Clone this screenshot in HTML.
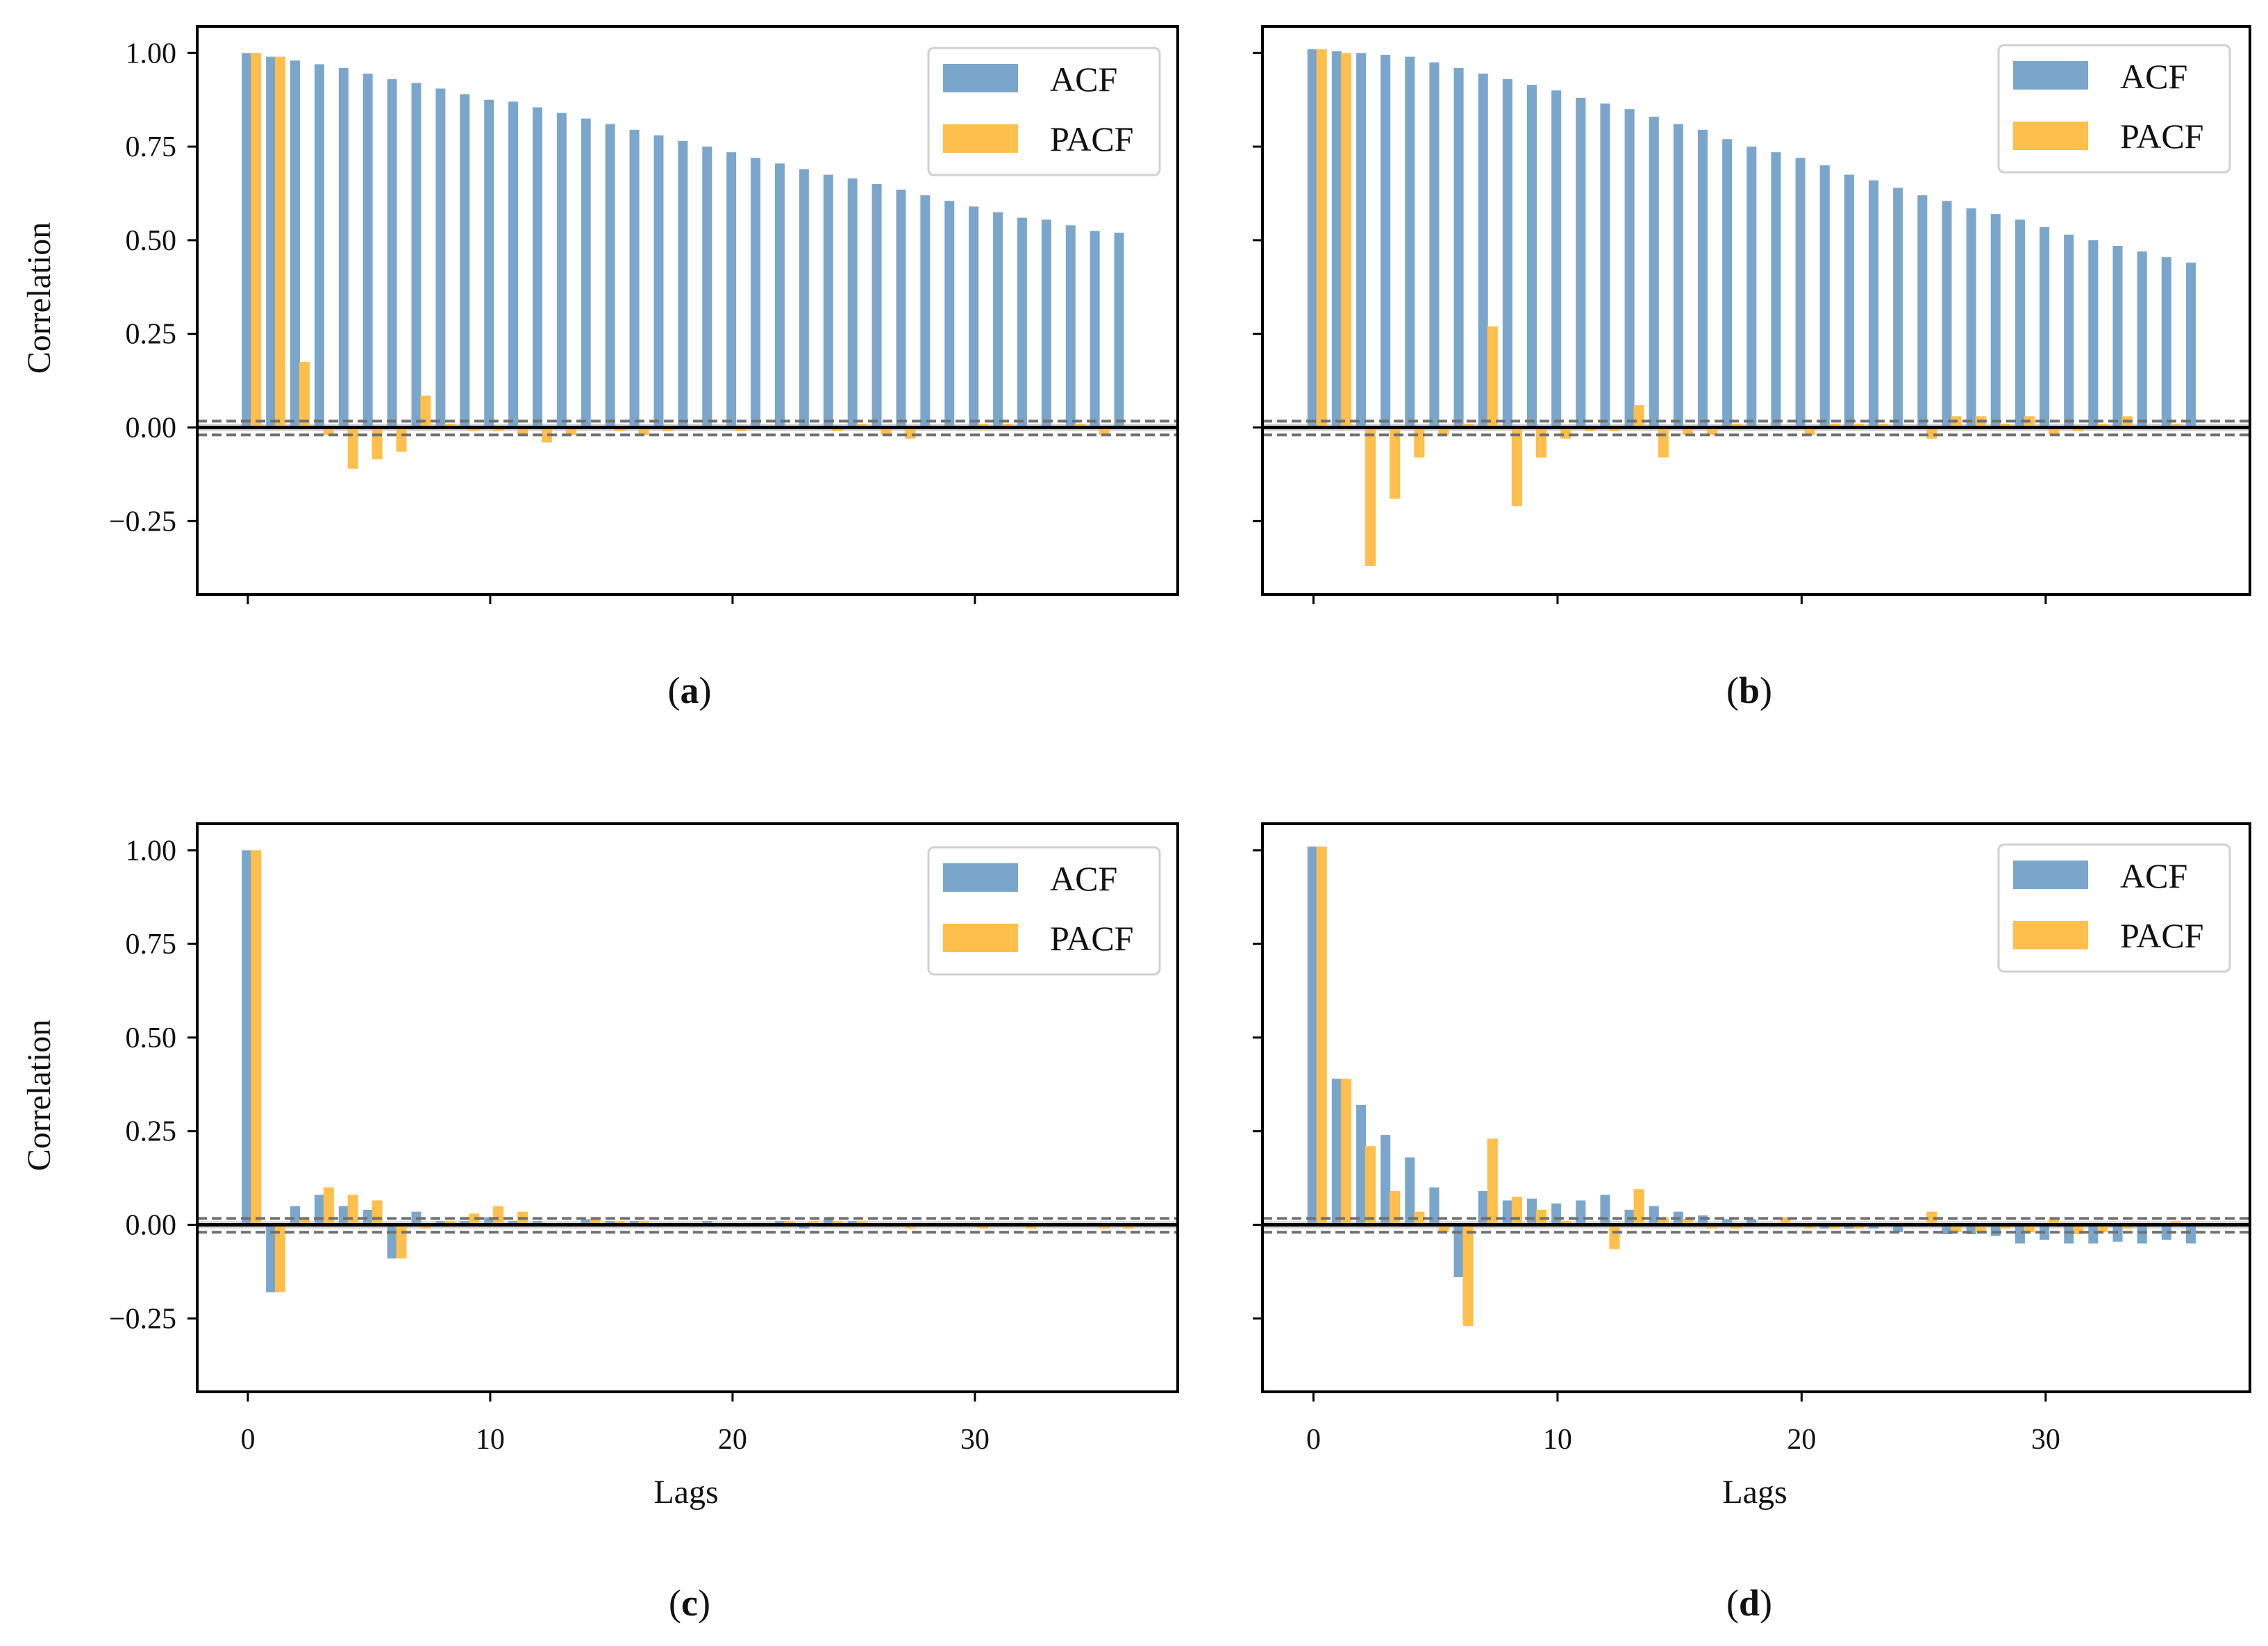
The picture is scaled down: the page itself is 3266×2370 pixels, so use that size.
<!DOCTYPE html>
<html><head><meta charset="utf-8"><style>
html,body{margin:0;padding:0;background:#fff;}
svg{display:block;}
text{font-family:"Liberation Serif",serif;fill:#111;}
</style></head><body>
<svg id="fig" width="3266" height="2370" viewBox="0 0 3266 2370" xmlns="http://www.w3.org/2000/svg"></svg>
<script>
const lags = Array.from({length:37},(_, i)=>i);
const xTicks = [0,10,20,30];
const yTicks = [1.0,0.75,0.5,0.25,0.0,-0.25];
const yTickLabels = ["1.00","0.75","0.50","0.25","0.00","\u22120.25"];
const confUpper = 0.017;
const confLower = -0.02;

const acfA = [1.00,.99,.98,.97,.96,.945,.93,.92,.905,.89,.875,.87,.855,.84,.825,.81,.795,.78,.765,.75,.735,.72,.705,.69,.675,.665,.65,.635,.62,.605,.59,.575,.56,.555,.54,.525,.52];
const pacfA = [1.00,.99,.175,-.02,-.11,-.085,-.065,.085,.01,-.01,-.01,-.02,-.04,-.02,0,-.01,-.02,-.01,0,0,-.01,0,0,0,-.01,.01,-.02,-.03,0,0,.01,.01,0,0,.01,-.02,0];
const acfB = [1.01,1.005,1.0,.995,.99,.975,.96,.945,.93,.915,.90,.88,.865,.85,.83,.81,.795,.77,.75,.735,.72,.70,.675,.66,.64,.62,.605,.585,.57,.555,.535,.515,.50,.485,.47,.455,.44];
const pacfB = [1.01,1.0,-.37,-.19,-.08,-.02,.01,.27,-.21,-.08,-.03,-.01,-.01,.06,-.08,-.02,-.02,.01,0,0,-.02,.01,.01,.01,0,-.03,.03,.03,.01,.03,-.02,-.01,.01,.03,0,.01,0];
const acfC = [1.0,-.18,.05,.08,.05,.04,-.09,.035,.01,.01,.02,.01,.01,.005,.015,.01,.01,0,0,.01,0,0,.01,-.01,.015,.01,0,0,0,0,0,0,0,0,0,0,0];
const pacfC = [1.0,-.18,.02,.10,.08,.065,-.09,-.01,.01,.03,.05,.035,0,0,.02,.01,.01,0,0,0,0,0,.01,.01,.01,.01,0,-.01,0,0,-.01,0,-.01,0,0,-.01,-.01];
const acfD = [1.01,.39,.32,.24,.18,.10,-.14,.09,.065,.07,.057,.065,.08,.04,.05,.035,.025,.015,.015,0,0,-.01,-.01,-.01,-.02,0,-.025,-.025,-.03,-.05,-.04,-.05,-.05,-.045,-.05,-.04,-.05];
const pacfD = [1.01,.39,.21,.09,.035,-.02,-.27,.23,.075,.04,.01,0,-.065,.095,.02,.015,-.01,-.01,0,.02,-.01,-.01,-.01,0,0,.035,-.02,-.02,-.01,-.02,.02,-.025,-.02,-.01,0,.01,0];

const NS="http://www.w3.org/2000/svg";
const svg=document.getElementById('fig');
function mk(tag,attrs,parent){const e=document.createElementNS(NS,tag);for(const k in attrs)e.setAttribute(k,attrs[k]);(parent||svg).appendChild(e);return e;}

const panels=[
 {id:'a',acf:acfA,pacf:pacfA,x0:284,x1:1696,y0:38,y1:856,ylab:true,xlab:false,cap:[993,1012],leg:[1337,69]},
 {id:'b',acf:acfB,pacf:pacfB,x0:1818,x1:3240,y0:38,y1:856,ylab:false,xlab:false,cap:[2519,1012],leg:[2878,65]},
 {id:'c',acf:acfC,pacf:pacfC,x0:284,x1:1696,y0:1186,y1:2004,ylab:true,xlab:true,cap:[993,2326],leg:[1337,1220]},
 {id:'d',acf:acfD,pacf:pacfD,x0:1818,x1:3240,y0:1186,y1:2004,ylab:false,xlab:true,cap:[2519,2326],leg:[2878,1216]}
];
const xmin=-2.09,xmax=38.37,ymin=-0.446,ymax=1.071;

panels.forEach(p=>{
 const g=mk('g',{});
 
 
 const X=v=>p.x0+(v-xmin)/(xmax-xmin)*(p.x1-p.x0);
 const Y=v=>p.y1-(v-ymin)/(ymax-ymin)*(p.y1-p.y0);
 // band
 const band=mk('rect',{x:p.x0,y:Y(0.01),width:p.x1-p.x0,height:Y(-0.01)-Y(0.01),fill:'#d9d9d9'},g);
 
 
 // bars
 lags.forEach(k=>{
  const a=p.acf[k];
  const r=mk('rect',{x:X(k-0.25),y:Y(Math.max(a,0)),width:X(k+0.15)-X(k-0.25),height:Math.abs(Y(a)-Y(0)),fill:'#7ba6cb'},g);
  
  
 });
 lags.forEach(k=>{
  const a=p.pacf[k];
  const r=mk('rect',{x:X(k+0.12),y:Y(Math.max(a,0)),width:X(k+0.55)-X(k+0.12),height:Math.abs(Y(a)-Y(0)),fill:'#ffbf4d'},g);
  
  
 });
 [confUpper,confLower].forEach(c=>{
  const l=mk('line',{x1:p.x0,x2:p.x1,y1:Y(c),y2:Y(c),stroke:'#707070','stroke-width':4,'stroke-dasharray':'14,7'},g);
  
  
 });
 const z=mk('line',{x1:p.x0,x2:p.x1,y1:Y(0),y2:Y(0),stroke:'#000','stroke-width':5},g);
 
 
 const fr=mk('rect',{x:p.x0,y:p.y0,width:p.x1-p.x0,height:p.y1-p.y0,fill:'none',stroke:'#000','stroke-width':4},g);
 
 
 // y ticks
 yTicks.forEach((v,i)=>{
  mk('line',{x1:p.x0-14,x2:p.x0,y1:Y(v),y2:Y(v),stroke:'#000','stroke-width':3},g);
  if(p.ylab){
   const t=mk('text',{x:p.x0-30,y:Y(v)+14,'text-anchor':'end','font-size':42},g);
   t.textContent=yTickLabels[i];
   
   
  }
 });
 xTicks.forEach(v=>{
  mk('line',{x1:X(v),x2:X(v),y1:p.y1,y2:p.y1+14,stroke:'#000','stroke-width':3},g);
  if(p.xlab){
   const t=mk('text',{x:X(v),y:p.y1+82,'text-anchor':'middle','font-size':42},g);
   t.textContent=String(v);
   
   
  }
 });
 if(p.ylab){
  const cy=(p.y0+p.y1)/2-18;
  const t=mk('text',{x:72,y:cy,'text-anchor':'middle','font-size':48,transform:'rotate(-90 72 '+cy+')'},g);
  t.textContent='Correlation';
  
  
 }
 if(p.xlab){
  const t=mk('text',{x:(p.x0+p.x1)/2-2,y:p.y1+160,'text-anchor':'middle','font-size':48},g);
  t.textContent='Lags';
  
  
 }
 // legend
 const [lx,ly]=p.leg;
 const lg=mk('g',{},g);
 
 
 mk('rect',{x:lx,y:ly,width:333,height:183,rx:8,fill:'#fff','fill-opacity':0.9,stroke:'#d0d0d0','stroke-width':3},lg);
 mk('rect',{x:lx+21,y:ly+23,width:108,height:41,fill:'#7ba6cb'},lg);
 mk('rect',{x:lx+21,y:ly+110,width:108,height:41,fill:'#ffbf4d'},lg);
 const t1=mk('text',{x:lx+175,y:ly+62,'font-size':50},lg);
 t1.textContent='ACF';
 
 
 const t2=mk('text',{x:lx+175,y:ly+148,'font-size':50},lg);
 t2.textContent='PACF';
 
 
 // caption
 const cap=mk('text',{x:p.cap[0],y:p.cap[1],'text-anchor':'middle','font-size':54},g);
 
 
 cap.appendChild(document.createTextNode('('));
 const b=mk('tspan',{'font-weight':'bold'},cap);
 b.textContent=p.id;
 cap.appendChild(document.createTextNode(')'));
});
</script>
</body></html>
